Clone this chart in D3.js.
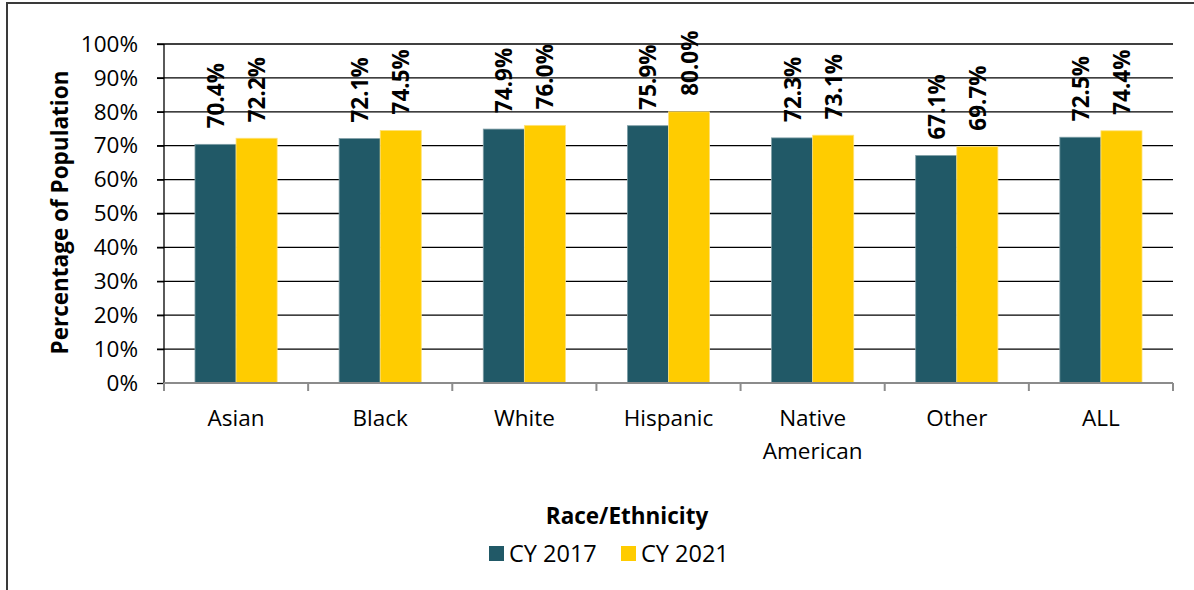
<!DOCTYPE html>
<html>
<head>
<meta charset="utf-8">
<script src="https://cdn.jsdelivr.net/npm/d3@7"></script>
<style>
  html, body { margin: 0; padding: 0; background: #fff; }
  svg { display: block; font-family: "Open Sans", "Noto Sans", sans-serif; }
</style>
</head>
<body>
<svg id="chart" width="1194" height="590"></svg>
<script>
// Share of population by race/ethnicity, two calendar years
const categories = ["Asian", "Black", "White", "Hispanic", "Native American", "Other", "ALL"];
const seriesNames = ["CY 2017", "CY 2021"];
const cy2017 = [70.4, 72.1, 74.9, 75.9, 72.3, 67.1, 72.5];
const cy2021 = [72.2, 74.5, 76.0, 80.0, 73.1, 69.7, 74.4];
const yTicks = [0, 10, 20, 30, 40, 50, 60, 70, 80, 90, 100];
const colors = ["#215967", "#FFCC00"];

const svg = d3.select("#chart");

// outer frame
svg.append("path")
  .attr("d", "M7,590 V3 H1194")
  .attr("fill", "none")
  .attr("stroke", "#3a3a3a")
  .attr("stroke-width", 2);

const plot = { left: 164, right: 1173, top: 44, bottom: 383 };

const x0 = d3.scaleBand()
  .domain(categories)
  .range([plot.left, plot.right])
  .paddingInner(0).paddingOuter(0);

const groupW = x0.bandwidth() * 0.57;
const x1 = d3.scaleBand()
  .domain(seriesNames)
  .range([(x0.bandwidth() - groupW) / 2, (x0.bandwidth() + groupW) / 2]);

const y = d3.scaleLinear().domain([0, 100]).range([plot.bottom, plot.top]);

// gridlines with left tick stubs
const grid = svg.append("g");
grid.selectAll("line")
  .data(yTicks.filter(d => d > 0))
  .join("line")
  .attr("x1", plot.left - 7).attr("x2", plot.right)
  .attr("y1", d => y(d)).attr("y2", d => y(d))
  .attr("stroke", "#000").attr("stroke-width", 1.3);

// y axis labels
const yAxis = d3.axisLeft(y)
  .tickValues(yTicks)
  .tickFormat(d => d + "%")
  .tickSize(7)
  .tickPadding(19);
const gy = svg.append("g")
  .attr("transform", `translate(${plot.left},0)`)
  .call(yAxis);
gy.select(".domain").remove();
gy.selectAll(".tick line").attr("stroke", "#000").attr("stroke-width", 1.3);
gy.selectAll(".tick text")
  .attr("font-size", 22.5)
  .attr("fill", "#000")
  .attr("font-family", "'Open Sans', sans-serif");

// bars
const rows = categories.map((c, i) => ({ cat: c, vals: [cy2017[i], cy2021[i]] }));
const groups = svg.append("g").selectAll("g")
  .data(rows)
  .join("g")
  .attr("transform", d => `translate(${x0(d.cat)},0)`);

groups.selectAll("rect")
  .data(d => d.vals.map((v, k) => ({ s: seriesNames[k], v, k })))
  .join("rect")
  .attr("x", d => x1(d.s))
  .attr("width", x1.bandwidth())
  .attr("y", d => y(d.v))
  .attr("height", d => y(0) - y(d.v))
  .attr("fill", d => colors[d.k])
  .attr("stroke", d => d.k === 0 ? "#7f9ea6" : "#ffe27a")
  .attr("stroke-width", 0.8);

// value labels, rotated, above each bar
groups.selectAll("text.val")
  .data(d => d.vals.map((v, k) => ({ s: seriesNames[k], v, k })))
  .join("text")
  .attr("class", "val")
  .attr("transform", d => `translate(${x1(d.s) + x1.bandwidth() / 2},${y(d.v) - 16}) rotate(-90)`)
  .attr("text-anchor", "start")
  .attr("dominant-baseline", "central")
  .attr("font-size", 22.5)
  .attr("font-weight", "bold")
  .attr("fill", "#000")
  .text(d => d.v.toFixed(1) + "%");

// y axis line
svg.append("line")
  .attr("x1", plot.left).attr("x2", plot.left)
  .attr("y1", plot.top).attr("y2", plot.bottom + 6)
  .attr("stroke", "#000").attr("stroke-width", 1.3);

// x axis line and category boundary ticks
svg.append("line")
  .attr("x1", plot.left).attr("x2", plot.right)
  .attr("y1", plot.bottom).attr("y2", plot.bottom)
  .attr("stroke", "#8c8c8c").attr("stroke-width", 2);
const bounds = categories.map(c => x0(c)).concat([plot.right]);
svg.append("g").selectAll("line")
  .data(bounds)
  .join("line")
  .attr("x1", d => d).attr("x2", d => d)
  .attr("y1", plot.bottom).attr("y2", plot.bottom + 8)
  .attr("stroke", "#8c8c8c").attr("stroke-width", 2);

// category labels (wrap two-word names)
const catText = svg.append("g").selectAll("text")
  .data(categories)
  .join("text")
  .attr("x", d => x0(d) + x0.bandwidth() / 2)
  .attr("y", 426)
  .attr("text-anchor", "middle")
  .attr("font-size", 22.5)
  .attr("fill", "#000");
catText.each(function (d) {
  const words = d.split(" ");
  d3.select(this).selectAll("tspan")
    .data(words)
    .join("tspan")
    .attr("x", x0(d) + x0.bandwidth() / 2)
    .attr("dy", (w, i) => i === 0 ? 0 : 33)
    .text(w => w);
});

// axis titles
svg.append("text")
  .attr("transform", `translate(59,${(plot.top + plot.bottom) / 2 - 1}) rotate(-90)`)
  .attr("text-anchor", "middle")
  .attr("dominant-baseline", "central")
  .attr("font-size", 22.5)
  .attr("font-weight", "bold")
  .text("Percentage of Population");

svg.append("text")
  .attr("x", 627).attr("y", 524)
  .attr("text-anchor", "middle")
  .attr("font-size", 22.5)
  .attr("font-weight", "bold")
  .text("Race/Ethnicity");

// legend
const legend = svg.append("g");
const legendX = [489, 621];
seriesNames.forEach((name, k) => {
  legend.append("rect")
    .attr("x", legendX[k]).attr("y", 546)
    .attr("width", 15).attr("height", 15)
    .attr("fill", colors[k]);
  legend.append("text")
    .attr("x", legendX[k] + 20).attr("y", 562)
    .attr("font-size", 23.5)
    .text(name);
});
</script>
</body>
</html>
